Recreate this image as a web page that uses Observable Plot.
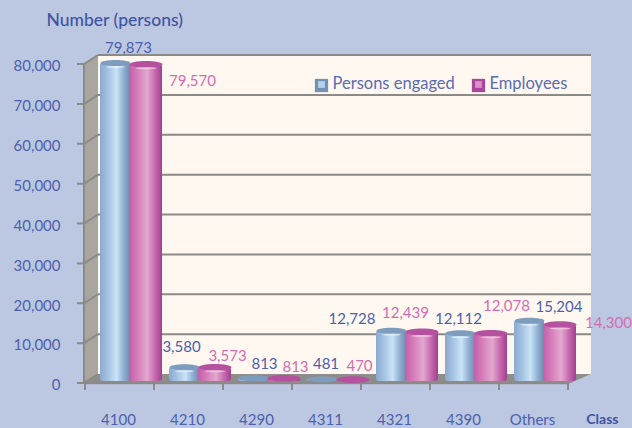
<!DOCTYPE html>
<html>
<head>
<meta charset="utf-8">
<script src="https://cdn.jsdelivr.net/npm/d3@7"></script>
<script src="https://cdn.jsdelivr.net/npm/@observablehq/plot@0.6"></script>
<style>
  html, body { margin: 0; padding: 0; background: #bcc8e2; overflow: hidden; }
  svg { display: block; }
</style>
</head>
<body>
<div id="chart"></div>
<script>
const categories = ["4100", "4210", "4290", "4311", "4321", "4390", "Others"];
const personsEngaged = [79873, 3580, 813, 481, 12728, 12112, 15204];
const employees = [79570, 3573, 813, 470, 12439, 12078, 14300];
const yTicks = [0, 10000, 20000, 30000, 40000, 50000, 60000, 70000, 80000];

const BLUE = "#4c60ad", PINK = "#d26db1", TITLE = "#3f53a2", LINE = "#8b8a86", LEGEND = "#5a6cb3";
const FONT = "Lato, 'Open Sans', sans-serif";

// label nudges relative to each bar's band centre and value
const personsNudge = [[8.5, -17], [-7.5, -22], [6.5, -16], [-1, -17], [-44, -14], [-6.5, -16], [25, -16]];
const employeesNudge = [[72.5, 14.5], [38.5, -13], [37.5, -13], [32.5, -15], [9.5, -21], [41.5, -29], [74.5, -3]];

const persons = categories.map((c, i) => ({c, v: personsEngaged[i]}));
const emps = categories.map((c, i) => ({c, v: employees[i]}));

const ellipse = ratio => ({
  draw(ctx, size) {
    const rx = Math.sqrt(size / Math.PI), ry = rx * ratio, k = 0.5523;
    ctx.moveTo(-rx, 0);
    ctx.bezierCurveTo(-rx, -k * ry, -k * rx, -ry, 0, -ry);
    ctx.bezierCurveTo(k * rx, -ry, rx, -k * ry, rx, 0);
    ctx.bezierCurveTo(rx, k * ry, k * rx, ry, 0, ry);
    ctx.bezierCurveTo(-k * rx, ry, -rx, k * ry, -rx, 0);
    ctx.closePath();
  }
});

function gradients() {
  const ns = "http://www.w3.org/2000/svg";
  const defs = document.createElementNS(ns, "defs");
  const add = (id, stops) => {
    const g = document.createElementNS(ns, "linearGradient");
    g.setAttribute("id", id);
    stops.forEach(([o, c]) => {
      const s = document.createElementNS(ns, "stop");
      s.setAttribute("offset", o);
      s.setAttribute("stop-color", c);
      g.appendChild(s);
    });
    defs.appendChild(g);
  };
  add("gBlue", [[0, "#8aa9cf"], [0.25, "#a3c1e0"], [0.55, "#c9e4f7"], [0.8, "#8fadd0"], [1, "#6d8cae"]]);
  add("gPink", [[0, "#c25faa"], [0.25, "#d57cb9"], [0.55, "#e3a8cf"], [0.8, "#c566ad"], [1, "#a0408f"]]);
  return defs;
}

// 3D box of the chart: back wall, left wall, floor, grid lines and tick marks
function box(index, {x, y}, values, dims) {
  const ns = "http://www.w3.org/2000/svg";
  const g = document.createElementNS(ns, "g");
  const add = (tag, attrs) => {
    const e = document.createElementNS(ns, tag);
    for (const k in attrs) e.setAttribute(k, attrs[k]);
    g.appendChild(e);
  };
  const x0 = dims.marginLeft, x1 = dims.width - dims.marginRight;
  const y0 = y(0), yTop = y(80000);
  const bl = x0 + 14, br = x1 + 23, dyB = 9;
  add("rect", {x: bl, y: yTop - dyB, width: br - bl, height: y0 - yTop, fill: "#fff8f0"});
  add("path", {d: `M${x0},${yTop}L${bl},${yTop - dyB}V${y0 - dyB}L${x0},${y0}Z`, fill: "#a9a59f"});
  add("path", {d: `M${x0},${y0 + 1}L${bl},${y0 - dyB}H${br}L${x1},${y0 + 1}Z`, fill: "#8e8d8b"});
  add("path", {d: `M${x0},${y0 + 1}V${yTop}`, stroke: LINE, "stroke-width": 2, fill: "none"});
  add("path", {d: `M${x0},${y0}H${x1}`, stroke: LINE, "stroke-width": 2.5, fill: "none"});
  yTicks.forEach(t => {
    const yy = y(t);
    add("path", {d: `M${x0 - 7},${yy}H${x0}L${bl},${yy - dyB}`, stroke: LINE, "stroke-width": 2, fill: "none"});
    if (t > 0) add("path", {d: `M${bl},${yy - dyB}H${br}`, stroke: LINE, "stroke-width": 2, fill: "none"});
  });
  const step = x.bandwidth();
  categories.forEach(c => add("path", {d: `M${x(c)},${y0}v7`, stroke: LINE, "stroke-width": 2}));
  add("path", {d: `M${x(categories[categories.length - 1]) + step},${y0}v7`, stroke: LINE, "stroke-width": 2});
  return g;
}

function cylinder(rows, inL, inR, gradient, capColor, highlight) {
  const r = (69 - inL - inR) / 2;
  const dx = inL + r - 34.5;
  return [
    Plot.barY(rows, {x: "c", y: "v", insetLeft: inL, insetRight: inR, dy: -2, rx: 3, fill: `url(#${gradient})`}),
    Plot.dot(rows, {x: "c", y: "v", r, dx, dy: -2, symbol: ellipse(0.2), fill: capColor}),
    Plot.dot(rows.filter(d => d.v > 2000), {x: "c", y: "v", r: r * 0.62, dx, dy: 2, symbol: ellipse(0.1), fill: highlight, fillOpacity: 0.75})
  ];
}

const labels = (rows, nudges, fill) => rows.map((d, i) =>
  Plot.text([d], {x: "c", y: "v", text: e => d3.format(",")(e.v), dx: nudges[i][0], dy: nudges[i][1], fill,
                  fontSize: 15, fontFamily: FONT, stroke: null}));

const plot = Plot.plot({
  width: 632,
  height: 428,
  marginLeft: 84,
  marginRight: 64,
  marginTop: 64,
  marginBottom: 45,
  style: {background: "#bcc8e2", fontFamily: FONT, overflow: "visible"},
  x: {type: "band", domain: categories, padding: 0, label: null},
  y: {domain: [0, 80000], label: null},
  marks: [
    gradients,
    box,
    Plot.axisY({ticks: yTicks, tickSize: 0, tickPadding: 23, dy: 2, dx: -1, tickFormat: d3.format(","), label: null, fill: BLUE, fontSize: 15, fontFamily: FONT}),
    Plot.axisX({tickSize: 0, tickPadding: 31, dx: -1.5, label: null, fill: BLUE, fontSize: 15, fontFamily: FONT}),
    ...cylinder(persons, 15, 24, "gBlue", "#7d9cbe", "#e4f1fb"),
    ...cylinder(emps, 44, -8, "gPink", "#b5529f", "#f0cfe4"),
    ...labels(persons, personsNudge, BLUE),
    ...labels(emps, employeesNudge, PINK),
    Plot.text(["Number (persons)"], {frameAnchor: "top-left", dx: -38, dy: -51, fill: TITLE, fontSize: 17.5, fontWeight: 500, fontFamily: FONT, textAnchor: "start"}),
    Plot.text(["Class"], {frameAnchor: "bottom-right", dx: 50, dy: 40, fill: TITLE, fontSize: 14, fontWeight: 700, fontFamily: FONT, textAnchor: "end"}),
    Plot.dot(["Persons engaged"], {frameAnchor: "top-left", dx: 237, dy: 21, symbol: "square", r: 7.5, fill: "#7191b5"}),
    Plot.dot(["Persons engaged"], {frameAnchor: "top-left", dx: 237, dy: 20, symbol: "square", r: 3.8, fill: "#b5d3ec"}),
    Plot.text(["Persons engaged"], {frameAnchor: "top-left", dx: 248, dy: 13, fill: LEGEND, fontSize: 16.5, fontFamily: FONT, textAnchor: "start"}),
    Plot.dot(["Employees"], {frameAnchor: "top-left", dx: 394, dy: 21, symbol: "square", r: 7.5, fill: "#a8479a"}),
    Plot.dot(["Employees"], {frameAnchor: "top-left", dx: 394, dy: 20, symbol: "square", r: 3.8, fill: "#e08cc8"}),
    Plot.text(["Employees"], {frameAnchor: "top-left", dx: 405, dy: 13, fill: LEGEND, fontSize: 16.5, fontFamily: FONT, textAnchor: "start"})
  ]
});
document.getElementById("chart").appendChild(plot);
</script>
</body>
</html>
